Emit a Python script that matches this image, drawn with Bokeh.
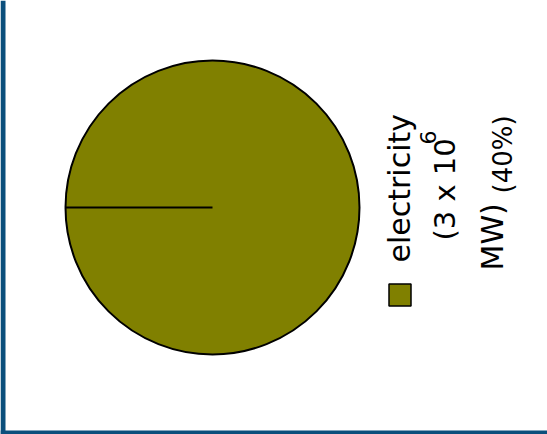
import math
from bokeh.plotting import figure
from bokeh.models import Range1d, ColumnDataSource
from bokeh.core.properties import value
from bokeh.embed import file_html
from bokeh.resources import INLINE

# ---- data ----
categories = ["electricity"]
values = [3]          # x 10^6 MW
exponents = [6]
units = ["MW"]
percents = [40]
colors = ["#808000"]

W, H = 547, 434
p = figure(width=W, height=H, output_backend="svg", toolbar_location=None,
           x_range=Range1d(0, W), y_range=Range1d(0, H), min_border=0)
p.axis.visible = False
p.grid.visible = False
p.outline_line_color = None
p.background_fill_color = "white"
p.border_fill_color = "white"

# frame strips (left and bottom)
blue = "#0b4f7c"
p.quad(left=[0], right=[5], bottom=[0], top=[H], color=blue, line_color=None)
p.quad(left=[0], right=[W], bottom=[0], top=[4], color=blue, line_color=None)

# pie
cx, cy, r = 212, H - 207, 147
total = sum(values)
starts, ends = [], []
a = math.pi
for v in values:
    starts.append(a)
    a += 2 * math.pi * v / total
    ends.append(a)
src = ColumnDataSource(dict(start=starts, end=ends, color=colors,
                            x=[cx] * len(values), y=[cy] * len(values)))
p.wedge(x="x", y="y", radius=r, start_angle="start", end_angle="end",
        fill_color="color", line_color="black", line_width=2, source=src)

# legend (rotated)
font = value("DejaVu Sans")
p.rect(x=[399.5], y=[H - 294.5], width=22, height=22, fill_color=colors[0],
       line_color="black", line_width=1.5)
rot = math.pi / 2
dx = -11
p.text(x=[410 + dx], y=[H - 262], text=[categories[0]], angle=rot, text_font=font,
       text_font_size="30px", text_baseline="alphabetic", text_align="left", text_color="black")
p.text(x=[455 + dx], y=[H - 240], text=[f"({values[0]} x 10"], angle=rot, text_font=font,
       text_font_size="29px", text_baseline="alphabetic", text_align="left", text_color="black")
p.text(x=[438 + dx], y=[H - 144], text=[str(exponents[0])], angle=rot, text_font=font,
       text_font_size="22px", text_baseline="alphabetic", text_align="left", text_color="black")
p.text(x=[503 + dx], y=[H - 270], text=[f"{units[0]})"], angle=rot, text_font=font,
       text_font_size="30px", text_baseline="alphabetic", text_align="left", text_color="black")
p.text(x=[513 + dx], y=[H - 193], text=[f"({percents[0]}%)"], angle=rot, text_font=font,
       text_font_size="26px", text_baseline="alphabetic", text_align="left", text_color="black")

open("out.html", "w").write(file_html(p, INLINE))
